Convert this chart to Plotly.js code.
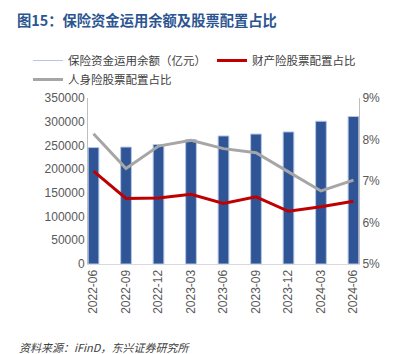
<!DOCTYPE html>
<html><head><meta charset="utf-8">
<script src="https://cdn.plot.ly/plotly-3.0.1.min.js"></script>
<style>html,body{margin:0;padding:0;background:#fff}#c{width:397px;height:354px}</style>
</head><body><div id="c"></div>
<script>
const categories = ['2022-06','2022-09','2022-12','2023-03','2023-06','2023-09','2023-12','2024-03','2024-06'];
const fundBalance = [245500, 246500, 252000, 262000, 270000, 274000, 278500, 301000, 311000];
const propertyStockPct = [7.24, 6.58, 6.59, 6.68, 6.46, 6.62, 6.27, 6.38, 6.51];
const lifeStockPct = [8.14, 7.30, 7.84, 7.98, 7.78, 7.68, 7.22, 6.76, 7.02];
const seriesNames = ['保险资金运用余额（亿元）', '财产险股票配置占比', '人身险股票配置占比'];

const cjk = '"Noto Sans CJK SC", "Liberation Sans", sans-serif';
const lat = '"Liberation Sans", Arial, sans-serif';
const traces = [
  {type:'bar', x:categories, y:fundBalance, name:seriesNames[0], showlegend:false,
   marker:{color:'#2F5597', line:{color:'#B4C7E7', width:1}}, width:0.33, yaxis:'y'},
  {type:'scatter', mode:'lines', x:[null], y:[null], name:seriesNames[0],
   line:{color:'#B4C7E7', width:1}, yaxis:'y', legend:'legend'},
  {type:'scatter', mode:'lines', x:categories, y:propertyStockPct, name:seriesNames[1],
   line:{color:'#C00000', width:3}, yaxis:'y2', legend:'legend2'},
  {type:'scatter', mode:'lines', x:categories, y:lifeStockPct, name:seriesNames[2],
   line:{color:'#A6A6A6', width:3}, yaxis:'y2', legend:'legend'}
];
const legFont = {family:cjk, size:11.5, color:'#404040'};
const layout = {
  width:397, height:354,
  margin:{l:88, r:38, t:98, b:90},
  paper_bgcolor:'#fff', plot_bgcolor:'#fff',
  font:{family:cjk, size:12, color:'#595959'},
  title:{text:'<b>图15：保险资金运用余额及股票配置占比</b>', xref:'container', yref:'container',
    x:17/397, xanchor:'left', y:1-21/354, yanchor:'middle',
    font:{family:cjk, size:14.3, color:'#2B5591'}},
  xaxis:{type:'category', range:[-0.17, 8.17], tickangle:-90, showgrid:false,
    showline:true, linecolor:'#D9D9D9', linewidth:1, ticks:'',
    tickfont:{family:lat, size:12, color:'#595959'}},
  yaxis:{range:[0,350000], dtick:50000, showgrid:false, zeroline:false,
    showline:true, linecolor:'#BFBFBF', ticks:'', tickformat:'d',
    tickfont:{family:lat, size:12, color:'#595959'}},
  yaxis2:{range:[5,9], dtick:1, overlaying:'y', side:'right', showgrid:false, zeroline:false,
    showline:true, linecolor:'#BFBFBF', ticks:'', ticksuffix:'%',
    tickfont:{family:lat, size:12, color:'#595959'}},
  legend:{orientation:'v', x:(28-88)/271, xanchor:'left', y:1+(98-46)/166, yanchor:'top',
    traceorder:'normal', tracegroupgap:0, bgcolor:'rgba(0,0,0,0)', font:legFont},
  legend2:{orientation:'v', x:(212-88)/271, xanchor:'left', y:1+(98-46)/166, yanchor:'top',
    bgcolor:'rgba(0,0,0,0)', font:legFont},
  annotations:[{text:'<i>资料来源：iFinD，东兴证券研究所</i>', xref:'paper', yref:'paper',
    x:(17-88)/271, xanchor:'left', y:(264-347)/166, yanchor:'middle', showarrow:false,
    font:{family:cjk, size:11, color:'#404040'}}]
};
Plotly.newPlot('c', traces, layout, {displayModeBar:false, staticPlot:true});
</script></body></html>
